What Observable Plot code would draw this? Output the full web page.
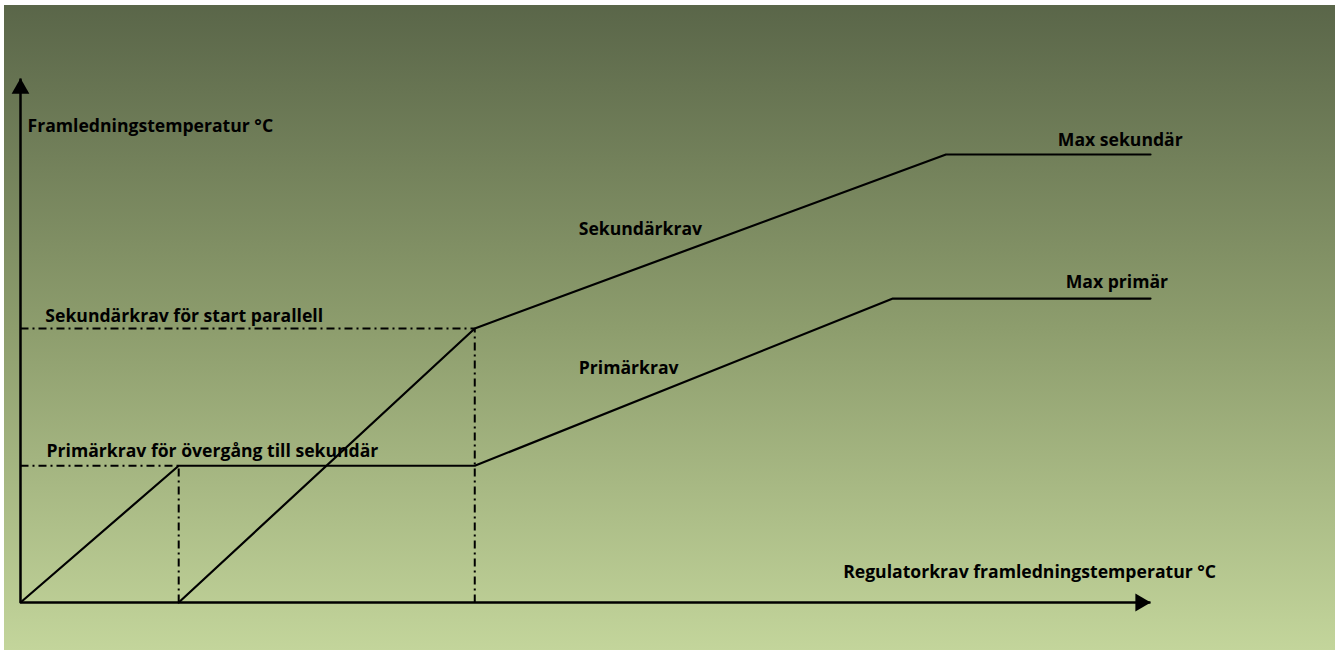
<!DOCTYPE html>
<html><head><meta charset="utf-8">
<script src="https://cdn.jsdelivr.net/npm/d3@7"></script>
<script src="https://cdn.jsdelivr.net/npm/@observablehq/plot@0.6"></script>
<style>html,body{margin:0;padding:0;background:#fff;}</style>
</head><body><div id="chart"></div>
<script>
// Abstract units: x = regulator demand (0..100), y = supply temperature (0..100)
const primX = [0, 14, 40.2, 77.2, 100];
const primY = [0, 26.1, 26.1, 58.0, 58.0];
const sekX = [14, 40.2, 81.9, 100];
const sekY = [0, 52.3, 85.5, 85.5];

// dash-dot guide lines (x1, y1, x2, y2)
const guideX1 = [0, 14, 0, 40.2];
const guideY1 = [26.1, 0, 52.3, 0];
const guideX2 = [14, 14, 40.2, 40.2];
const guideY2 = [26.1, 26.1, 52.3, 52.3];

// axes
const axisX1 = [0, 0];
const axisY1 = [0, 0];
const axisX2 = [100, 0];
const axisY2 = [0, 100];

// labels
const labelText = [
  "Framledningstemperatur °C",
  "Max sekundär",
  "Sekundärkrav",
  "Max primär",
  "Sekundärkrav för start parallell",
  "Primärkrav",
  "Primärkrav för övergång till sekundär",
  "Regulatorkrav framledningstemperatur °C"
];
const labelX = [0.62, 91.8, 49.4, 92.5, 2.2, 49.4, 2.3, 72.8];
const labelY = [89.7, 87.2, 70.2, 60.1, 53.6, 43.7, 27.7, 4.6];

const prim = primX.map((x, i) => ({x, y: primY[i]}));
const sek = sekX.map((x, i) => ({x, y: sekY[i]}));
const guides = guideX1.map((x1, i) => ({x1, y1: guideY1[i], x2: guideX2[i], y2: guideY2[i]}));
const axes = axisX1.map((x1, i) => ({x1, y1: axisY1[i], x2: axisX2[i], y2: axisY2[i]}));
const labels = labelText.map((t, i) => ({t, x: labelX[i], y: labelY[i]}));

const chart = Plot.plot({
  width: 1341,
  height: 657,
  marginLeft: 20,
  marginRight: 191,
  marginTop: 78,
  marginBottom: 55,
  x: {domain: [0, 100], axis: null},
  y: {domain: [0, 100], axis: null},
  marks: [
    Plot.link(guides, {x1: "x1", y1: "y1", x2: "x2", y2: "y2", stroke: "#000", strokeWidth: 2, strokeDasharray: "8,4,2,4"}),
    Plot.line(prim, {x: "x", y: "y", stroke: "#000", strokeWidth: 2.2}),
    Plot.line(sek, {x: "x", y: "y", stroke: "#000", strokeWidth: 2.2}),
    Plot.link(axes, {x1: "x1", y1: "y1", x2: "x2", y2: "y2", stroke: "#000", strokeWidth: 2.5}),
    Plot.dot([axes[0]], {x: "x2", y: "y2", symbol: "triangle", r: 6.6, fill: "#000", stroke: "none", rotate: 90, dx: -10}),
    Plot.dot([axes[1]], {x: "x2", y: "y2", symbol: "triangle", r: 6.6, fill: "#000", stroke: "none", dy: 10}),
    Plot.text(labels, {x: "x", y: "y", text: "t", textAnchor: "start", lineAnchor: "bottom",
      fontSize: 17.6, fontWeight: "bold", fontFamily: "Open Sans", fill: "#000"})
  ]
});
chart.style.background = "linear-gradient(to bottom, #5a6649, #8d9d6d 50%, #c3d59b) 4px 5px / 1331px 645px no-repeat, #ffffff";
chart.style.maxWidth = "none";
document.getElementById("chart").appendChild(chart);
</script>
</body></html>
